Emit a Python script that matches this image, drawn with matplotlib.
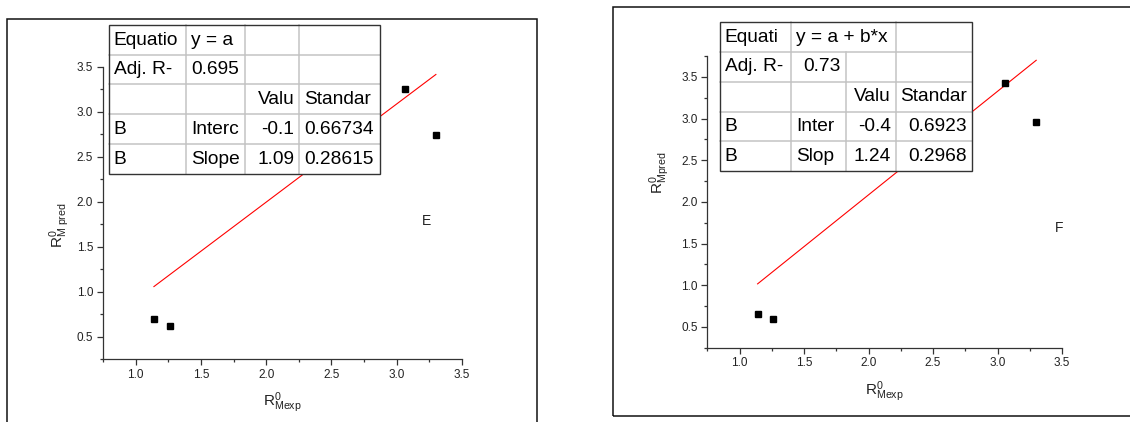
import matplotlib
matplotlib.use('Agg')
import matplotlib.pyplot as plt
from matplotlib.patches import Rectangle
from matplotlib.lines import Line2D
from matplotlib.ticker import MultipleLocator

# ---------------- data ----------------
x_exp_E = [1.14, 1.26, 3.06, 3.30]
y_pred_E = [0.69, 0.62, 3.25, 2.74]
fit_a_E, fit_b_E = -0.19, 1.093

x_exp_F = [1.14, 1.26, 3.06, 3.30]
y_pred_F = [0.66, 0.59, 3.43, 2.955]
fit_a_F, fit_b_F = -0.40, 1.242

xticks = [1.0, 1.5, 2.0, 2.5, 3.0, 3.5]
yticks_E = [0.5, 1.0, 1.5, 2.0, 2.5, 3.0, 3.5]
yticks_F = [0.5, 1.0, 1.5, 2.0, 2.5, 3.0, 3.5]

table_E = [
    ["Equatio", "y = a", "", ""],
    ["Adj. R-", "0.695", "", ""],
    ["", "", "Valu", "Standar"],
    ["B", "Interc", "-0.1", "0.66734"],
    ["B", "Slope", "1.09", "0.28615"],
]
table_F = [
    ["Equati", "y = a + b*x", None, ""],
    ["Adj. R-", "0.73", "", ""],
    ["", "", "Valu", "Standar"],
    ["B", "Inter", "-0.4", "0.6923"],
    ["B", "Slop", "1.24", "0.2968"],
]
panel_label_E = "E"
panel_label_F = "F"
xlabel = r'$\mathrm{R}^{0}_{\mathrm{Mexp}}$'
ylabel_E = r'$\mathrm{R}^{0}_{\mathrm{M\ pred}}$'
ylabel_F = r'$\mathrm{R}^{0}_{\mathrm{Mpred}}$'

# ---------------- style ----------------
W, H = 1130, 422
plt.rcParams['font.family'] = ['Liberation Sans', 'DejaVu Sans']
plt.rcParams['mathtext.fontset'] = 'custom'
plt.rcParams['mathtext.rm'] = 'Liberation Sans'
plt.rcParams['mathtext.it'] = 'Liberation Sans:italic'
plt.rcParams['mathtext.bf'] = 'Liberation Sans:bold'

fig = plt.figure(figsize=(W / 100, H / 100), dpi=100)


def fx(x):
    return x / W


def fy(y):
    return 1 - y / H


AXC = '#333333'


def make_panel(box, xlim, ylim, yticks, xs, ys, a, b, ylab, ylab_pos, plabel, plabel_xy):
    x0, y0, x1, y1 = box
    ax = fig.add_axes([fx(x0), fy(y1), (x1 - x0) / W, (y1 - y0) / H])
    ax.set_xlim(*xlim)
    ax.set_ylim(*ylim)
    for s in ['top', 'right']:
        ax.spines[s].set_visible(False)
    for s in ['left', 'bottom']:
        ax.spines[s].set_color(AXC)
        ax.spines[s].set_linewidth(0.9)
    ax.set_xticks(xticks)
    ax.set_yticks(yticks)
    ax.xaxis.set_minor_locator(MultipleLocator(0.25))
    ax.yaxis.set_minor_locator(MultipleLocator(0.25))
    ax.tick_params(which='major', direction='out', length=4.5, width=0.9,
                   color=AXC, labelcolor='#222222', labelsize=8.5, pad=2.5)
    ax.tick_params(which='minor', direction='out', length=2.5, width=0.9, color=AXC)
    ax.set_xticklabels([f'{t:.1f}' for t in xticks])
    ax.set_yticklabels([f'{t:.1f}' for t in yticks])
    ax.plot(xs, ys, 's', color='black', markersize=4.8, clip_on=False, zorder=3)
    lx = [min(xs), max(xs)]
    ax.plot(lx, [a + b * v for v in lx], color='#ff0000', lw=0.8, clip_on=False, zorder=2)
    ax.set_xlabel(xlabel, fontsize=11, color='#222222', labelpad=7)
    ax.set_ylabel(ylab, fontsize=11, color='#222222')
    ax.yaxis.set_label_coords(*ylab_pos)
    ax.text(plabel_xy[0], plabel_xy[1], plabel, fontsize=10, color='#222222',
            ha='center', va='center')
    return ax


def draw_box(x0, y0, x1, y1, lw=1.1, color='#111111'):
    r = Rectangle((fx(x0), fy(y1)), (x1 - x0) / W, (y1 - y0) / H,
                  transform=fig.transFigure, fill=False, lw=lw, edgecolor=color,
                  zorder=1)
    fig.add_artist(r)


def draw_table(cols, rows, cells, aligns):
    x0, x1 = cols[0], cols[-1]
    y0, y1 = rows[0], rows[-1]
    bg = Rectangle((fx(x0), fy(y1)), (x1 - x0) / W, (y1 - y0) / H,
                   transform=fig.transFigure, facecolor='white', edgecolor='none', zorder=5)
    fig.add_artist(bg)
    grid = '#c4c4c4'
    for yy in rows[1:-1]:
        fig.add_artist(Line2D([fx(x0), fx(x1)], [fy(yy), fy(yy)], transform=fig.transFigure,
                              color=grid, lw=1.1, zorder=6))
    for r, row in enumerate(cells):
        for c in range(1, len(cols) - 1):
            if row[c] is None:
                continue
            fig.add_artist(Line2D([fx(cols[c]), fx(cols[c])], [fy(rows[r]), fy(rows[r + 1])],
                                  transform=fig.transFigure, color=grid, lw=1.1, zorder=6))
    ob = Rectangle((fx(x0), fy(y1)), (x1 - x0) / W, (y1 - y0) / H,
                   transform=fig.transFigure, fill=False, edgecolor='#333333', lw=1.0, zorder=7)
    fig.add_artist(ob)
    for r, row in enumerate(cells):
        for c, txt in enumerate(row):
            if not txt:
                continue
            cend = c + 1
            while cend < len(row) and row[cend] is None:
                cend += 1
            left, right = cols[c], cols[cend]
            al = aligns[r][c]
            if al == 'l':
                xx, ha = left + 5, 'left'
            else:
                xx, ha = right - 5, 'right'
            fig.text(fx(xx), fy(rows[r] + 19.5), txt, ha=ha, va='baseline',
                     fontsize=13.8, color='black', zorder=8)


# panel frames
draw_box(7, 19, 536.7, 440)
draw_box(613.3, 7.3, 1140, 415.7)

make_panel((103, 67, 462, 359), (0.75, 3.5), (0.25, 3.5), yticks_E,
           x_exp_E, y_pred_E, fit_a_E, fit_b_E, ylabel_E, (-0.085, 0.46),
           panel_label_E, (3.23, 1.79))
make_panel((707.3, 56, 1062, 347.7), (0.75, 3.5), (0.25, 3.75), yticks_F,
           x_exp_F, y_pred_F, fit_a_F, fit_b_F, ylabel_F, (-0.10, 0.60),
           panel_label_F, (3.48, 1.69))

draw_table([108.7, 186.3, 245.3, 299.3, 380.3], [25.3, 55, 84.3, 114.3, 144, 173.7],
           table_E,
           [['l', 'l', 'l', 'l'],
            ['l', 'l', 'l', 'l'],
            ['l', 'l', 'r', 'l'],
            ['l', 'l', 'r', 'l'],
            ['l', 'l', 'r', 'l']])
draw_table([719.7, 791.3, 845.5, 896, 971.5], [22, 51.8, 81.5, 111.5, 141.2, 171.2],
           table_F,
           [['l', 'l', 'l', 'l'],
            ['l', 'r', 'l', 'l'],
            ['l', 'l', 'r', 'r'],
            ['l', 'l', 'r', 'r'],
            ['l', 'l', 'r', 'r']])

fig.savefig('out.png', dpi=100)
